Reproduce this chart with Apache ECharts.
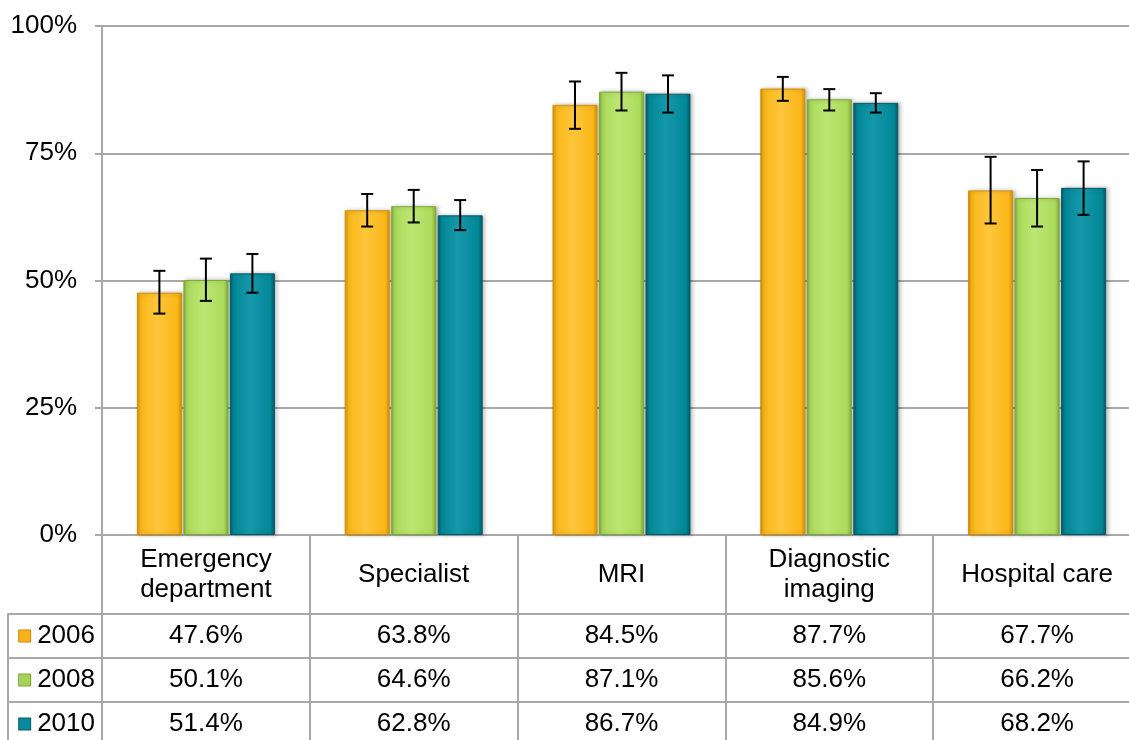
<!DOCTYPE html>
<html>
<head>
<meta charset="utf-8">
<script src="https://cdn.jsdelivr.net/npm/echarts@6/dist/echarts.min.js"></script>
<style>
html,body{margin:0;padding:0;background:#fff;overflow:hidden;width:1129px;height:740px;}
#chart{width:1145px;height:750px;}
</style>
</head>
<body>
<div id="chart"></div>
<script>
var categories = ['Emergency\ndepartment', 'Specialist', 'MRI', 'Diagnostic\nimaging', 'Hospital care'];
var years = ['2006', '2008', '2010'];
var values2006 = [47.6, 63.8, 84.5, 87.7, 67.7];
var values2008 = [50.1, 64.6, 87.1, 85.6, 66.2];
var values2010 = [51.4, 62.8, 86.7, 84.9, 68.2];
var err2006 = [[43.5, 51.9], [60.6, 67.0], [79.8, 89.1], [85.3, 90.0], [61.2, 74.3]];
var err2008 = [[46.0, 54.3], [61.4, 67.8], [83.4, 90.8], [83.4, 87.6], [60.6, 71.7]];
var err2010 = [[47.6, 55.2], [59.9, 65.8], [83.0, 90.3], [83.0, 86.8], [62.9, 73.4]];
var yTicks = [0, 25, 50, 75, 100];

var allValues = [values2006, values2008, values2010];
var allErr = [err2006, err2008, err2010];

var FONT = 'Liberation Sans, Arial, sans-serif';
var GRIDC = '#a9a9a9';
var BAR_W = 45;
var BAR_GAP = 1.5;

var palettes = [
  {edge: '#d48e06', base: '#fbb719', light: '#fdc63a', icon: '#f9b21a', iconB: '#c98a08'},
  {edge: '#7fa836', base: '#acdb5c', light: '#bce672', icon: '#a6d45a', iconB: '#7ea33a'},
  {edge: '#035a66', base: '#028797', light: '#1599aa', icon: '#078b9c', iconB: '#04606c'}
];

function barColor(p) {
  return new echarts.graphic.LinearGradient(0, 0, 1, 0, [
    {offset: 0, color: p.edge},
    {offset: 0.08, color: p.base},
    {offset: 0.45, color: p.light},
    {offset: 0.9, color: p.base},
    {offset: 1, color: p.edge}
  ]);
}

function errRender(idx) {
  return function (params, api) {
    var c = api.value(0), lo = api.value(1), hi = api.value(2);
    var pLo = api.coord([c, lo]);
    var pHi = api.coord([c, hi]);
    var x = pLo[0] + (idx - 1) * (BAR_W + BAR_GAP);
    var hw = 6;
    var st = {stroke: '#000', lineWidth: 2};
    return {
      type: 'group',
      children: [
        {type: 'line', shape: {x1: x, y1: pHi[1], x2: x, y2: pLo[1]}, style: st},
        {type: 'line', shape: {x1: x - hw, y1: pHi[1], x2: x + hw, y2: pHi[1]}, style: st},
        {type: 'line', shape: {x1: x - hw, y1: pLo[1], x2: x + hw, y2: pLo[1]}, style: st}
      ]
    };
  };
}

function cellRender(params, api) {
  var c = api.value(0), r = api.value(1), v = api.value(2);
  var p = api.coord([c, r]);
  return {
    type: 'text',
    x: p[0], y: p[1],
    style: {
      text: v.toFixed(1) + '%',
      align: 'center', verticalAlign: 'middle',
      fontSize: 26, fontFamily: FONT, fill: '#000'
    }
  };
}

var series = [];
years.forEach(function (y, i) {
  series.push({
    name: y, type: 'bar', xAxisIndex: 0, yAxisIndex: 0,
    barWidth: BAR_W, barGap: (BAR_GAP / BAR_W * 100) + '%',
    data: allValues[i],
    itemStyle: {
      color: barColor(palettes[i]),
      borderColor: palettes[i].edge, borderWidth: 1,
      shadowColor: 'rgba(0,0,0,0.25)', shadowBlur: 4, shadowOffsetX: 2
    },
    z: 2
  });
});
years.forEach(function (y, i) {
  series.push({
    type: 'custom', xAxisIndex: 0, yAxisIndex: 0,
    renderItem: errRender(i),
    encode: {x: 0, y: [1, 2]},
    data: allErr[i].map(function (e, c) { return [c, e[0], e[1]]; }),
    z: 5, silent: true
  });
});
var cells = [];
years.forEach(function (y, r) {
  allValues[r].forEach(function (v, c) { cells.push([c, r, v]); });
});
series.push({
  type: 'custom', xAxisIndex: 1, yAxisIndex: 1,
  renderItem: cellRender,
  encode: {x: 0, y: 1},
  data: cells, silent: true
});

var richIcons = {t: {fontSize: 26, fontFamily: FONT, color: '#000', padding: [0, 0, 0, 7]}};
years.forEach(function (y, i) {
  richIcons['i' + i] = {
    width: 11, height: 11,
    backgroundColor: palettes[i].icon,
    borderColor: palettes[i].iconB, borderWidth: 1
  };
});

var option = {
  animation: false,
  backgroundColor: '#fff',
  grid: [
    {left: 102, top: 26, width: 1039, height: 509, containLabel: false},
    {left: 102, top: 614, width: 1039, height: 132, containLabel: false}
  ],
  xAxis: [
    {
      type: 'category', gridIndex: 0, data: categories,
      axisLine: {lineStyle: {color: GRIDC, width: 2}},
      axisTick: {show: true, interval: 0, length: 212, alignWithLabel: false, lineStyle: {color: GRIDC, width: 2}},
      axisLabel: {
        interval: 0, margin: 40, verticalAlign: 'middle',
        fontSize: 26, lineHeight: 30, fontFamily: FONT, color: '#000'
      },
      splitLine: {show: false}
    },
    {
      type: 'category', gridIndex: 1, data: categories,
      axisLine: {show: false}, axisTick: {show: false}, axisLabel: {show: false},
      splitLine: {show: false}
    }
  ],
  yAxis: [
    {
      type: 'value', gridIndex: 0, min: yTicks[0], max: yTicks[yTicks.length - 1], interval: 25,
      axisLine: {show: true, lineStyle: {color: GRIDC, width: 2}},
      axisTick: {show: true, length: 7, lineStyle: {color: GRIDC, width: 2}},
      axisLabel: {formatter: '{value}%', fontSize: 26, fontFamily: FONT, color: '#000', margin: 25},
      splitLine: {show: true, lineStyle: {color: GRIDC, width: 2}}
    },
    {
      type: 'category', gridIndex: 1, data: years, inverse: true,
      axisLine: {show: true, lineStyle: {color: GRIDC, width: 2}},
      axisTick: {show: true, interval: 0, length: 94, alignWithLabel: false, lineStyle: {color: GRIDC, width: 2}},
      axisLabel: {
        interval: 0, margin: 7,
        formatter: function (v, i) { return '{i' + i + '|}{t|' + v + '}'; },
        rich: richIcons
      },
      splitLine: {show: true, interval: 0, lineStyle: {color: GRIDC, width: 2}}
    },
    {
      type: 'category', gridIndex: 1, data: years, inverse: true, position: 'left', offset: 94,
      axisLine: {show: true, lineStyle: {color: GRIDC, width: 2}},
      axisTick: {show: false}, axisLabel: {show: false}, splitLine: {show: false}
    }
  ],
  series: series
};

var chart = echarts.init(document.getElementById('chart'), null, {renderer: 'canvas'});
chart.setOption(option);
</script>
</body>
</html>
